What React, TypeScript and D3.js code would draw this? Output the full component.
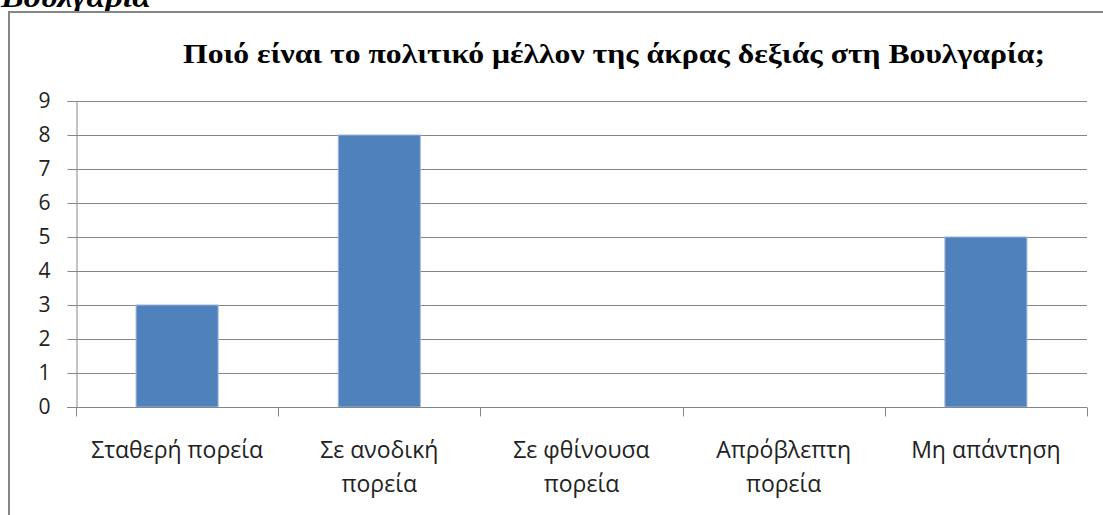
import React, { useRef, useEffect } from 'react';
import * as d3 from 'd3';

const categories = [
  ['Σταθερή πορεία'],
  ['Σε ανοδική', 'πορεία'],
  ['Σε φθίνουσα', 'πορεία'],
  ['Απρόβλεπτη', 'πορεία'],
  ['Μη απάντηση'],
];
const values = [3, 8, 0, 0, 5];
const yTicks = [0, 1, 2, 3, 4, 5, 6, 7, 8, 9];
const title = 'Ποιό είναι το πολιτικό μέλλον της άκρας δεξιάς στη Βουλγαρία;';
const heading = 'Βουλγαρία';

const W = 1103;
const H = 515;
const margin = { top: 101, left: 76, right: 16, bottom: 108 };

const App = () => {
  const ref = useRef(null);

  useEffect(() => {
    const svg = d3.select(ref.current);
    svg.selectAll('*').remove();

    const x = d3.scaleBand()
      .domain(categories.map((_, i) => String(i)))
      .range([margin.left, W - margin.right])
      .paddingInner(0)
      .paddingOuter(0);

    const y = d3.scaleLinear()
      .domain([0, 9])
      .range([H - margin.bottom, margin.top]);

    // cut-off heading above the frame
    svg.append('text')
      .attr('x', 1)
      .attr('y', 7)
      .attr('font-family', '"Liberation Serif", serif')
      .attr('font-weight', 'bold')
      .attr('font-style', 'italic')
      .attr('font-size', 30)
      .attr('textLength', 150)
      .attr('lengthAdjust', 'spacingAndGlyphs')
      .text(heading);

    // chart frame
    svg.append('rect')
      .attr('x', 9)
      .attr('y', 12)
      .attr('width', W + 20)
      .attr('height', H + 20)
      .attr('fill', '#fff')
      .attr('stroke', '#868686')
      .attr('stroke-width', 2);

    svg.append('text')
      .attr('x', 183)
      .attr('y', 63)
      .attr('font-family', '"Liberation Serif", serif')
      .attr('font-weight', 'bold')
      .attr('font-size', 28)
      .attr('textLength', 862)
      .attr('lengthAdjust', 'spacingAndGlyphs')
      .text(title);

    // gridlines
    svg.append('g')
      .selectAll('line')
      .data(yTicks.filter(d => d > 0))
      .join('line')
      .attr('x1', margin.left)
      .attr('x2', W - margin.right)
      .attr('y1', d => Math.round(y(d)) + 0.5)
      .attr('y2', d => Math.round(y(d)) + 0.5)
      .attr('stroke', '#868686');

    // y axis
    const yAxis = svg.append('g')
      .attr('transform', `translate(${margin.left + 0.5},0)`)
      .call(d3.axisLeft(y).tickValues(yTicks).tickSize(9).tickPadding(17).tickFormat(d3.format('d')));
    yAxis.select('.domain').attr('stroke', '#868686');
    yAxis.selectAll('.tick line').attr('stroke', '#868686');
    yAxis.selectAll('.tick text')
      .attr('font-family', '"Open Sans", sans-serif')
      .attr('font-size', 21)
      .attr('fill', '#222');

    // bars
    const barW = 82;
    svg.append('g')
      .selectAll('rect')
      .data(values)
      .join('rect')
      .attr('x', (_, i) => x(String(i)) + x.bandwidth() / 2 - barW / 2)
      .attr('y', d => y(d))
      .attr('width', barW)
      .attr('height', d => y(0) - y(d))
      .attr('fill', '#4F81BD')
      .attr('stroke', d => (d > 0 ? '#9db6d8' : 'none'))
      .attr('stroke-width', 1);

    // x axis
    const y0 = Math.round(y(0)) + 0.5;
    svg.append('line')
      .attr('x1', margin.left - 9)
      .attr('x2', W - margin.right)
      .attr('y1', y0)
      .attr('y2', y0)
      .attr('stroke', '#868686');

    const bounds = categories.map((_, i) => x(String(i))).concat([W - margin.right]);
    svg.append('g')
      .selectAll('line')
      .data(bounds)
      .join('line')
      .attr('x1', d => Math.round(d) + 0.5)
      .attr('x2', d => Math.round(d) + 0.5)
      .attr('y1', y0)
      .attr('y2', y0 + 9)
      .attr('stroke', '#868686');

    const labels = svg.append('g')
      .selectAll('text')
      .data(categories)
      .join('text')
      .attr('x', (_, i) => x(String(i)) + x.bandwidth() / 2)
      .attr('y', 458)
      .attr('text-anchor', 'middle')
      .attr('font-family', '"Open Sans", sans-serif')
      .attr('font-size', 23)
      .attr('fill', '#222');
    labels.selectAll('tspan')
      .data(d => d)
      .join('tspan')
      .attr('x', function () { return d3.select(this.parentNode).attr('x'); })
      .attr('dy', (_, j) => (j === 0 ? 0 : 34))
      .text(d => d);
  }, []);

  return (
    <svg ref={ref} width={W} height={H} style={{ position: 'absolute', left: 0, top: 0 }}></svg>
  );
};

export default App;
